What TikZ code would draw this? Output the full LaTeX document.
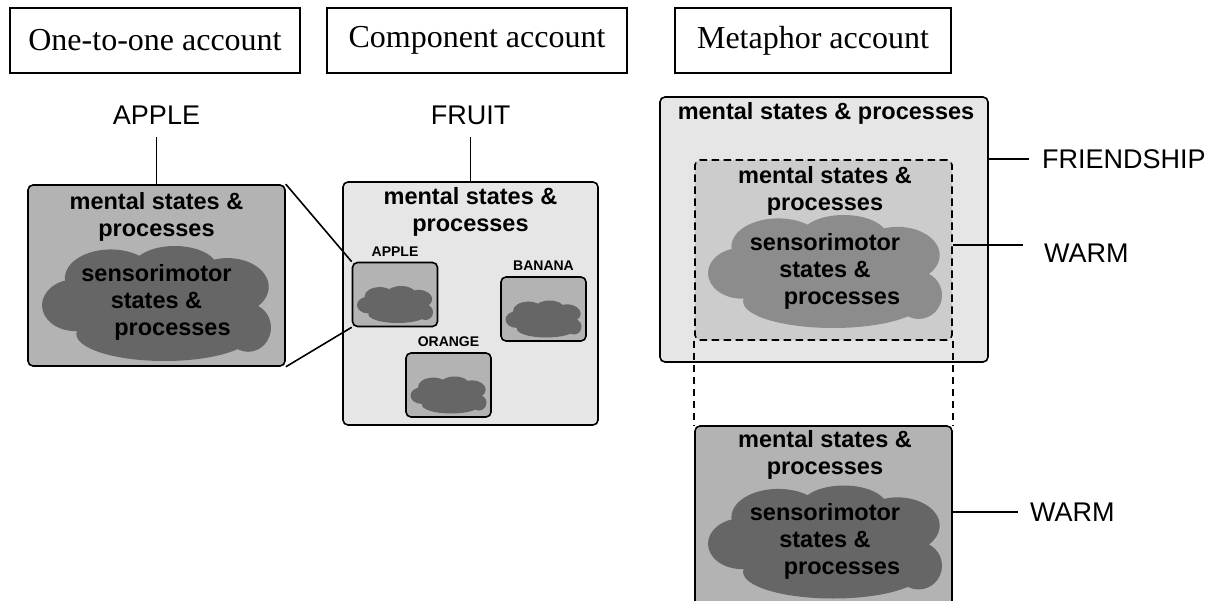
\documentclass[tikz,border=0pt]{standalone}
\usepackage{fontspec}
\setmainfont{Liberation Serif}
\setsansfont{Liberation Sans}
\usepackage{tikz}
\usetikzlibrary{positioning}

\definecolor{greylight}{HTML}{E6E6E6}
\definecolor{greymid}{HTML}{B3B3B3}
\definecolor{greysoft}{HTML}{CCCCCC}
\definecolor{greydim}{HTML}{8C8C8C}
\definecolor{greydark}{HTML}{666666}

\tikzset{
  account/.style={draw, line width=1.4pt, minimum height=65pt, inner sep=0pt,
    font=\fontsize{32}{36}\selectfont},
  panel/.style={draw, line width=1.6pt, rounded corners=5pt, inner sep=0pt},
  heavy/.style={font=\sffamily\bfseries\fontsize{23.5}{27}\selectfont, align=center, inner sep=0pt},
  word/.style={font=\sffamily\fontsize{27}{30}\selectfont, inner sep=0pt},
  tag/.style={font=\sffamily\bfseries\fontsize{14}{16}\selectfont, inner sep=0pt},
  link/.style={line width=1.6pt},
  hint/.style={line width=1.6pt, dash pattern=on 7.5pt off 4.5pt},
  puffcloud/.pic={
    \fill (-0.71,0.03) ellipse [x radius=0.29, y radius=0.45]
          (-0.40,-0.44) ellipse [x radius=0.40, y radius=0.50]
          (0.16,-0.62) ellipse [x radius=0.37, y radius=0.38]
          (0.62,-0.29) ellipse [x radius=0.36, y radius=0.50]
          (0.80,0.42) ellipse [x radius=0.20, y radius=0.42]
          (0.07,0.53) ellipse [x radius=0.77, y radius=0.47]
          (0,0) ellipse [x radius=0.8, y radius=0.6];
  },
}

\begin{document}
\begin{tikzpicture}[x=1pt, y=-1pt]
\useasboundingbox (0,0) rectangle (1214,601);
\clip (0,0) rectangle (1214,601);

\node[account, minimum width=290pt] (oneh) at (155,40.5) {One-to-one account};
\node[account, minimum width=300pt] (comph) at (477,40.5) {Component account};
\node[account, minimum width=276pt] (metah) at (813,40.5) {Metaphor account};

% one-to-one
\node[word, anchor=base] (appleword) at (156.5,125) {APPLE};
\node[panel, fill=greymid, minimum width=257pt, minimum height=181pt] (onebox) at (156.5,275.5) {};
\draw[link] ([yshift=-12pt]appleword.south) -- (onebox.north);
\node[heavy] (onetext) at (156.5,217) {mental states \&\\processes};
\pic[color=greydark, xscale=114.5, yscale=57.5] at (156.5,303.5) {puffcloud};
\node[heavy] (onecloudtext) at (156.5,302) {sensorimotor\\states \&\\\hspace*{32pt}processes};

% component
\node[word, anchor=base] (fruitword) at (470.5,125) {FRUIT};
\node[panel, fill=greylight, minimum width=255pt, minimum height=243pt] (compbox) at (470.5,303.5) {};
\draw[link] ([yshift=-12pt]fruitword.south) -- (compbox.north);
\node[heavy] (comptext) at (470.5,212) {mental states \&\\processes};
\foreach \nm/\px/\py/\tx in {applebox/395/294.5/APPLE, bananabox/543.5/309/BANANA, orangebox/448.5/385/ORANGE} {
  \node[panel, fill=greymid, minimum width=85pt, minimum height=64pt] (\nm) at (\px,\py) {};
  \pic[color=greydark, xscale=38, yscale=18.5] at ([yshift=-10pt]\nm.center) {puffcloud};
  \node[tag, above=5pt of \nm] (\nm-tag) {\tx};
}
\draw[link] (onebox.north east) -- (applebox.north west);
\draw[link] (onebox.south east) -- (applebox.south west);

% metaphor
\node[panel, fill=greylight, minimum width=328pt, minimum height=265pt] (friendbox) at (824,229.5) {};
\node[heavy] (friendtext) at (826,113) {mental states \& processes};
\node[word, anchor=west] (friendword) at (1042,159) {FRIENDSHIP};
\draw[link] (friendword.west -| friendbox.east) -- ([xshift=-13pt]friendword.west);

\node[panel, hint, fill=greysoft, minimum width=257pt, minimum height=180pt] (warmin) at (823.5,250) {};
\node[heavy] (warmintext) at (825,190.5) {mental states \&\\processes};
\pic[color=greydim, xscale=117, yscale=56.5] at (825,271.5) {puffcloud};
\node[heavy] (warmincloudtext) at (825,271) {sensorimotor\\states \&\\\hspace*{34pt}processes};
\node[word, anchor=west] (warmword) at (1044,253) {WARM};
\draw[link] ([yshift=5pt]warmin.east) -- ([xshift=-21pt,yshift=8pt]warmword.west);

\node[panel, fill=greymid, minimum width=257pt, minimum height=216pt] (warmbox) at (823.5,534) {};
\node[heavy] (warmboxtext) at (825,454.5) {mental states \&\\processes};
\pic[color=greydark, xscale=117, yscale=56.5] at (825,542) {puffcloud};
\node[heavy] (warmboxcloudtext) at (825,541) {sensorimotor\\states \&\\\hspace*{34pt}processes};
\node[word, anchor=west] (warmword2) at (1030,512) {WARM};
\draw[link] (warmword2.west -| warmbox.east) -- ([xshift=-12pt]warmword2.west);

\draw[hint] (warmin.south west) -- (warmbox.north west);
\draw[hint] (warmin.south east) -- (warmbox.north east);
\end{tikzpicture}
\end{document}
